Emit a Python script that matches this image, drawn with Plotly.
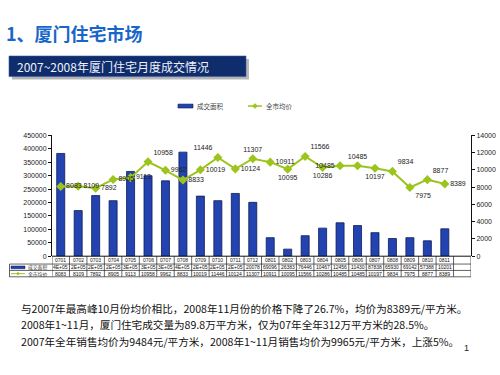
import plotly.graph_objects as go

# ---------------- data ----------------
months = ["0701", "0702", "0703", "0704", "0705", "0706", "0707", "0708", "0709", "0710", "0711", "0712",
          "0801", "0802", "0803", "0804", "0805", "0806", "0807", "0808", "0809", "0810", "0811"]
area = [383000, 170000, 226000, 207000, 316000, 300000, 281000, 388000, 224000, 207000, 234000, 200780,
        69096, 26383, 76446, 104670, 124560, 114300, 87838, 65930, 69142, 57388, 102010]
price = [8083, 8109, 7892, 8905, 9113, 10958, 9962, 8833, 10019, 11446, 10124, 11307,
         10911, 10095, 11566, 10286, 10485, 10485, 10197, 9834, 7975, 8877, 8389]
area_table_text = ["4E+05", "2E+05", "2E+05", "2E+05", "3E+05", "3E+05", "3E+05", "4E+05", "2E+05", "2E+05",
                   "2E+05", "20078", "69096", "26383", "76446", "10467", "12456", "11430", "87838", "65930",
                   "69142", "57388", "10201"]
price_label_pos = ["middle right", "middle right", "middle right", "middle right", "middle right", "top right",
                   "middle right", "middle right", "middle right", "top left", "middle right", "top center",
                   "middle right", "bottom center", "top right", "bottom center", "middle left", "top center",
                   "bottom center", "top right", "bottom right", "top right", "middle right"]
left_ticks = list(range(0, 450001, 50000))
right_ticks = list(range(0, 14001, 2000))

series_area = "成交面积"
series_price = "全市均价"
title_main = "1、厦门住宅市场"
title_banner = "2007~2008年厦门住宅月度成交情况"
notes = [
    "与2007年最高峰10月份均价相比，2008年11月份的价格下降了26.7%，均价为8389元/平方米。",
    "2008年1~11月，厦门住宅成交量为89.8万平方米，仅为07年全年312万平方米的28.5%。",
    "2007年全年销售均价为9484元/平方米，2008年1~11月销售均价为9965元/平方米，上涨5%。",
]

# ---------------- helpers ----------------
W, H = 500, 375
def px(x):
    return x / W
def py(y):
    return 1 - y / H

BAR_COLOR = "#2343b0"
BAR_LINE = "#0e1c58"
LINE_COLOR = "#9cc41c"
FONT = "Liberation Sans, Arial, sans-serif"
CJK = "Noto Sans CJK SC, sans-serif"

PLOT_L, PLOT_R, PLOT_T, PLOT_B = 52, 471, 134, 257
ROW1, ROW2, ROW3 = 265, 271.5, 278
TABLE_L = 9.5

fig = go.Figure()
fig.add_trace(go.Bar(
    x=months, y=area, name=series_area, marker=dict(color=BAR_COLOR, line=dict(color=BAR_LINE, width=0.8)),
    width=0.46, showlegend=False,
))
fig.add_trace(go.Scatter(
    x=months, y=price, name=series_price, yaxis="y2", mode="lines+markers+text",
    line=dict(color=LINE_COLOR, width=2), marker=dict(symbol="diamond", size=7, color=LINE_COLOR),
    text=[str(v) for v in price], textposition=price_label_pos,
    textfont=dict(family=FONT, size=7, color="#222"), showlegend=False, cliponaxis=False,
))

shapes = []
annotations = []

# banner
shapes.append(dict(type="rect", xref="paper", yref="paper", x0=px(12), x1=px(249), y0=py(56), y1=py(77),
                   fillcolor="#b8b8b8", line=dict(width=0), layer="below"))
shapes.append(dict(type="rect", xref="paper", yref="paper", x0=px(9), x1=px(246), y0=py(53), y1=py(74),
                   fillcolor="#0f2c6c", line=dict(color="#3a5a9a", width=0.6), layer="below"))
annotations.append(dict(text=title_banner, xref="paper", yref="paper", x=px(15), y=py(64), xanchor="left",
                        yanchor="middle", showarrow=False, font=dict(family=CJK, size=12, color="#eef2fa")))
annotations.append(dict(text="<b>" + title_main + "</b>", xref="paper", yref="paper", x=px(4), y=py(30),
                        xanchor="left", yanchor="middle", showarrow=False,
                        font=dict(family=CJK, size=18, color="#1866c8")))

# top legend
shapes.append(dict(type="rect", xref="paper", yref="paper", x0=px(178), x1=px(193), y0=py(106), y1=py(102),
                   fillcolor=BAR_COLOR, line=dict(color=BAR_LINE, width=0.6)))
annotations.append(dict(text=series_area, xref="paper", yref="paper", x=px(195), y=py(104), xanchor="left",
                        yanchor="middle", showarrow=False, font=dict(family=CJK, size=6.5, color="#444")))
shapes.append(dict(type="line", xref="paper", yref="paper", x0=px(248), x1=px(262), y0=py(104), y1=py(104),
                   line=dict(color=LINE_COLOR, width=1.5)))
def diamond(cx, cy, r):
    return (f"M {px(cx)} {py(cy - r)} L {px(cx + r)} {py(cy)} L {px(cx)} {py(cy + r)} "
            f"L {px(cx - r)} {py(cy)} Z")
shapes.append(dict(type="path", xref="paper", yref="paper", path=diamond(255, 104, 2.5),
                   fillcolor=LINE_COLOR, line=dict(color=LINE_COLOR, width=0.5)))
annotations.append(dict(text=series_price, xref="paper", yref="paper", x=px(264), y=py(104), xanchor="left",
                        yanchor="middle", showarrow=False, font=dict(family=CJK, size=6.5, color="#444")))

# data table below the chart
grid = dict(color="#222", width=0.7)
n_cols = len(months) + 1
for i in range(n_cols + 1):
    shapes.append(dict(type="line", xref="x", yref="paper", x0=i - 0.5, x1=i - 0.5, y0=py(PLOT_B), y1=py(ROW3),
                       line=grid))
for yy in (ROW1, ROW2, ROW3):
    shapes.append(dict(type="line", xref="paper", yref="paper", x0=px(TABLE_L), x1=px(PLOT_R), y0=py(yy), y1=py(yy),
                       line=grid))
shapes.append(dict(type="line", xref="paper", yref="paper", x0=px(TABLE_L), x1=px(TABLE_L), y0=py(ROW1),
                   y1=py(ROW3), line=grid))
shapes.append(dict(type="line", xref="paper", yref="paper", x0=px(PLOT_L), x1=px(PLOT_R), y0=py(PLOT_B),
                   y1=py(PLOT_B), line=dict(color="#111", width=1)))

tfont = dict(family=FONT, size=5, color="#111")
for i, (m, a_txt, p) in enumerate(zip(months, area_table_text, price)):
    annotations.append(dict(text=m, x=i, xref="x", yref="paper", y=py((PLOT_B + ROW1) / 2), showarrow=False,
                            xanchor="center", yanchor="middle", font=tfont, borderpad=0))
    annotations.append(dict(text=a_txt, x=i, xref="x", yref="paper", y=py((ROW1 + ROW2) / 2), showarrow=False,
                            xanchor="center", yanchor="middle", font=tfont, borderpad=0))
    annotations.append(dict(text=str(p), x=i, xref="x", yref="paper", y=py((ROW2 + ROW3) / 2), showarrow=False,
                            xanchor="center", yanchor="middle", font=tfont, borderpad=0))

# legend keys inside the table
shapes.append(dict(type="rect", xref="paper", yref="paper", x0=px(11), x1=px(25), y0=py(269.8), y1=py(267),
                   fillcolor=BAR_COLOR, line=dict(color=BAR_LINE, width=0.5)))
annotations.append(dict(text=series_area, xref="paper", yref="paper", x=px(27), y=py((ROW1 + ROW2) / 2),
                        xanchor="left", yanchor="middle", showarrow=False, borderpad=0,
                        font=dict(family=CJK, size=4.8, color="#333")))
shapes.append(dict(type="line", xref="paper", yref="paper", x0=px(11), x1=px(25), y0=py(274.8), y1=py(274.8),
                   line=dict(color=LINE_COLOR, width=1)))
shapes.append(dict(type="path", xref="paper", yref="paper", path=diamond(18, 274.8, 1.6),
                   fillcolor=LINE_COLOR, line=dict(color=LINE_COLOR, width=0.4)))
annotations.append(dict(text=series_price, xref="paper", yref="paper", x=px(27), y=py((ROW2 + ROW3) / 2),
                        xanchor="left", yanchor="middle", showarrow=False, borderpad=0,
                        font=dict(family=CJK, size=4.8, color="#333")))

# notes below
for t, yy in zip(notes, (310, 327, 344)):
    annotations.append(dict(text=t, xref="paper", yref="paper", x=px(19), y=py(yy), xanchor="left",
                            yanchor="middle", showarrow=False, font=dict(family=CJK, size=10.6, color="#111")))
annotations.append(dict(text="1", xref="paper", yref="paper", x=px(466), y=py(351), xanchor="center",
                        yanchor="middle", showarrow=False, font=dict(family=FONT, size=9, color="#222")))

fig.update_layout(
    width=W, height=H, margin=dict(l=0, r=0, t=0, b=0),
    paper_bgcolor="white", plot_bgcolor="white", showlegend=False, bargap=0.54,
    xaxis=dict(type="category", categoryorder="array", categoryarray=months, range=[-0.5, n_cols - 0.5],
               domain=[px(PLOT_L), px(PLOT_R)], showticklabels=False, ticks="", showgrid=False, zeroline=False,
               showline=False, fixedrange=True),
    yaxis=dict(range=[0, 450000], domain=[py(PLOT_B), py(PLOT_T)], tickvals=left_ticks,
               ticktext=[str(v) for v in left_ticks], tickfont=dict(family=FONT, size=7, color="#222"),
               showline=True, linecolor="#111", linewidth=1, ticks="outside", ticklen=3, tickcolor="#111",
               showgrid=False, zeroline=False, anchor="x"),
    yaxis2=dict(range=[0, 14000], overlaying="y", side="right", tickvals=right_ticks,
                ticktext=[str(v) for v in right_ticks], tickfont=dict(family=FONT, size=7, color="#222"),
                showline=True, linecolor="#111", linewidth=1, ticks="outside", ticklen=3, tickcolor="#111",
                showgrid=False, zeroline=False, anchor="x"),
    shapes=shapes, annotations=annotations,
)

fig.write_html("out.html", config={"displayModeBar": False},
               post_script="document.body.style.margin='0';document.body.style.overflow='hidden';")
